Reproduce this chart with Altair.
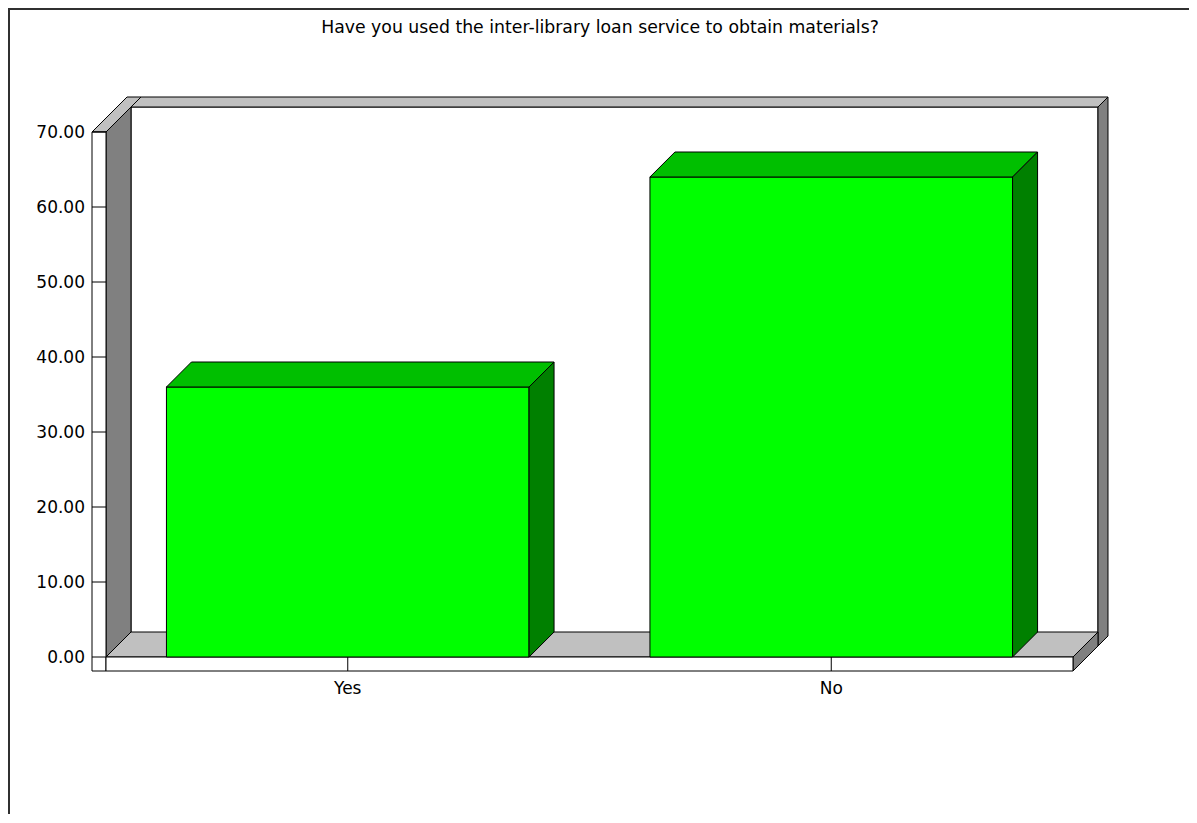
import altair as alt
import pandas as pd

# ---------------- data ----------------
categories = ["Yes", "No"]
values = [36.0, 64.0]
y_ticks = [0, 10, 20, 30, 40, 50, 60, 70]
y_tick_labels = ["0.00", "10.00", "20.00", "30.00", "40.00", "50.00", "60.00", "70.00"]
chart_title = "Have you used the inter-library loan service to obtain materials?"

# ---------------- layout (page pixels) ----------------
PAGE_X0 = 106.0      # page x where the category axis starts
BAND_PX = 483.5      # width of one category band
PAGE_Y0 = 657.0      # page y of value 0
PX_PER_UNIT = 7.5    # pixels per value unit
U_MIN, U_MAX = -0.2, 2.2
V_MIN, V_MAX = -20.0, 86.0
AXIS_MAX = 70.0
BAR_FRAC = 0.75
SVG_W, SVG_H = 1181.0, 806.0


def du(px):
    return px / BAND_PX


def dv(px):
    return px / PX_PER_UNIT


DEPTH, WALL, BACK = 25, 14, 10
DU, DV = du(DEPTH), dv(DEPTH)
WU, WV = du(WALL), dv(WALL)
BU, BV = du(BACK), dv(BACK)
N = len(categories)

LEFT_PAD = PAGE_X0 + BAND_PX * U_MIN - 8
TOP_PAD = PAGE_Y0 - PX_PER_UNIT * V_MAX - 8
W = BAND_PX * (U_MAX - U_MIN)
H = PX_PER_UNIT * (V_MAX - V_MIN)
RIGHT_PAD = SVG_W - W - LEFT_PAD
BOTTOM_PAD = SVG_H - H - TOP_PAD

FONT = "DejaVu Sans"
LIGHT, MID, WHITE = "#c0c0c0", "#808080", "#ffffff"
G_FRONT, G_TOP, G_SIDE = "#00ff00", "#00bf00", "#008000"

xs = alt.Scale(domain=[U_MIN, U_MAX], nice=False, zero=False)
ys = alt.Scale(domain=[V_MIN, V_MAX], nice=False, zero=False)


def rect_layer(rows):
    df = pd.DataFrame(rows)
    return alt.Chart(df).mark_rect(stroke="black", strokeWidth=1).encode(
        x=alt.X("x:Q", scale=xs, axis=None), x2="x2:Q",
        y=alt.Y("y:Q", scale=ys, axis=None), y2="y2:Q",
        fill=alt.Fill("fill:N", scale=None),
    )


def top_rows(pid, v, a, b, dx, dy, fill):
    # parallelogram with horizontal edges: at v spanning a..b, at v+dy spanning a+dx..b+dx
    return [
        {"id": pid, "y": v, "x": a, "x2": b, "fill": fill},
        {"id": pid, "y": v + dy, "x": a + dx, "x2": b + dx, "fill": fill},
    ]


def side_rows(pid, u, v0, v1, dx, dy, fill):
    # parallelogram with vertical edges: at u spanning v0..v1, at u+dx spanning v0+dy..v1+dy
    return [
        {"id": pid, "x": u, "y": v0, "y2": v1, "fill": fill},
        {"id": pid, "x": u + dx, "y": v0 + dy, "y2": v1 + dy, "fill": fill},
    ]


def top_layer(rows):
    df = pd.DataFrame(rows)
    return alt.Chart(df).mark_area(orient="horizontal", stroke="black", strokeWidth=1).encode(
        y=alt.Y("y:Q", scale=ys, axis=None),
        x=alt.X("x:Q", scale=xs, axis=None, stack=None), x2="x2:Q",
        fill=alt.Fill("fill:N", scale=None), detail="id:N",
    )


def side_layer(rows):
    df = pd.DataFrame(rows)
    return alt.Chart(df).mark_area(orient="vertical", stroke="black", strokeWidth=1).encode(
        x=alt.X("x:Q", scale=xs, axis=None),
        y=alt.Y("y:Q", scale=ys, axis=None, stack=None), y2="y2:Q",
        fill=alt.Fill("fill:N", scale=None), detail="id:N",
    )


# ---- walls and floor ----
back_front = rect_layer([{"x": DU, "x2": N + DU, "y": DV - WV, "y2": AXIS_MAX + DV, "fill": WHITE}])
back_top = top_layer(top_rows("bt", AXIS_MAX + DV, DU, N + DU, BU, BV, LIGHT))
sides_back = side_layer(
    side_rows("br", N + DU, DV - WV, AXIS_MAX + DV, BU, BV, MID)
    + side_rows("lw", 0, 0, AXIS_MAX, DU, DV, MID)
    + side_rows("fr", N, -WV, 0, DU, DV, MID)
)
tops_back = top_layer(
    top_rows("ft", 0, 0, N, DU, DV, LIGHT)
    + top_rows("lt", AXIS_MAX, -WU, 0, DU + BU, DV + BV, LIGHT)
)
fronts = rect_layer([
    {"x": -WU, "x2": 0, "y": -WV, "y2": AXIS_MAX, "fill": WHITE},
    {"x": 0, "x2": N, "y": -WV, "y2": 0, "fill": WHITE},
])

# ---- ticks ----
ytick_df = pd.DataFrame({"v": y_ticks, "a": [-WU] * len(y_ticks), "b": [0.0] * len(y_ticks)})
yticks = alt.Chart(ytick_df).mark_rule(color="black", strokeWidth=1).encode(
    x=alt.X("a:Q", scale=xs, axis=None), x2="b:Q", y=alt.Y("v:Q", scale=ys, axis=None))
xtick_df = pd.DataFrame({"u": [i + 0.5 for i in range(N)], "a": [-WV] * N, "b": [0.0] * N})
xticks = alt.Chart(xtick_df).mark_rule(color="black", strokeWidth=1).encode(
    x=alt.X("u:Q", scale=xs, axis=None), y=alt.Y("a:Q", scale=ys, axis=None), y2="b:Q")

# ---- labels ----
ylab_df = pd.DataFrame({"v": y_ticks, "label": y_tick_labels, "u": [0.0] * len(y_ticks)})
ylabels = alt.Chart(ylab_df).mark_text(
    align="right", baseline="middle", font=FONT, fontSize=17, color="black", dx=-21, dy=1
).encode(x=alt.X("u:Q", scale=xs, axis=None), y=alt.Y("v:Q", scale=ys, axis=None), text="label:N")
xlab_df = pd.DataFrame({"u": [i + 0.5 for i in range(N)], "v": [0.0] * N, "label": categories})
xlabels = alt.Chart(xlab_df).mark_text(
    align="center", baseline="middle", font=FONT, fontSize=17, color="black", dy=32
).encode(x=alt.X("u:Q", scale=xs, axis=None), y=alt.Y("v:Q", scale=ys, axis=None), text="label:N")

one = pd.DataFrame({"t": [chart_title]})
title = alt.Chart(one).mark_text(
    align="center", baseline="middle", font=FONT, fontSize=17.3, color="black"
).encode(x=alt.value(600 - 8 - LEFT_PAD), y=alt.value(28 - 8 - TOP_PAD), text="t:N")

frame_left = alt.Chart(one).mark_rule(color="#303030", strokeWidth=2).encode(
    x=alt.value(-LEFT_PAD + 1), y=alt.value(-TOP_PAD), y2=alt.value(H + BOTTOM_PAD))
frame_top = alt.Chart(one).mark_rule(color="#303030", strokeWidth=2).encode(
    y=alt.value(-TOP_PAD + 1), x=alt.value(-LEFT_PAD), x2=alt.value(W + RIGHT_PAD))

# ---- bars ----
bar_front_rows, bar_top_rows, bar_side_rows = [], [], []
for i, (c, v) in enumerate(zip(categories, values)):
    a = i + (1 - BAR_FRAC) / 2
    b = i + (1 + BAR_FRAC) / 2
    bar_front_rows.append({"x": a, "x2": b, "y": 0.0, "y2": v, "fill": G_FRONT})
    bar_top_rows += top_rows(c, v, a, b, DU, DV, G_TOP)
    bar_side_rows += side_rows(c, b, 0.0, v, DU, DV, G_SIDE)

bars = alt.layer(rect_layer(bar_front_rows), top_layer(bar_top_rows), side_layer(bar_side_rows))

chart = alt.layer(
    back_front, back_top, sides_back, tops_back, fronts,
    yticks, xticks, ylabels, xlabels, title, bars, frame_left, frame_top,
).properties(
    width=W, height=H,
    padding={"left": LEFT_PAD, "top": TOP_PAD, "right": RIGHT_PAD, "bottom": BOTTOM_PAD},
    autosize=alt.AutoSizeParams(type="none"),
    background="white",
).configure_view(strokeWidth=0)

chart.save("out.html", embed_options={"renderer": "svg", "actions": False})
